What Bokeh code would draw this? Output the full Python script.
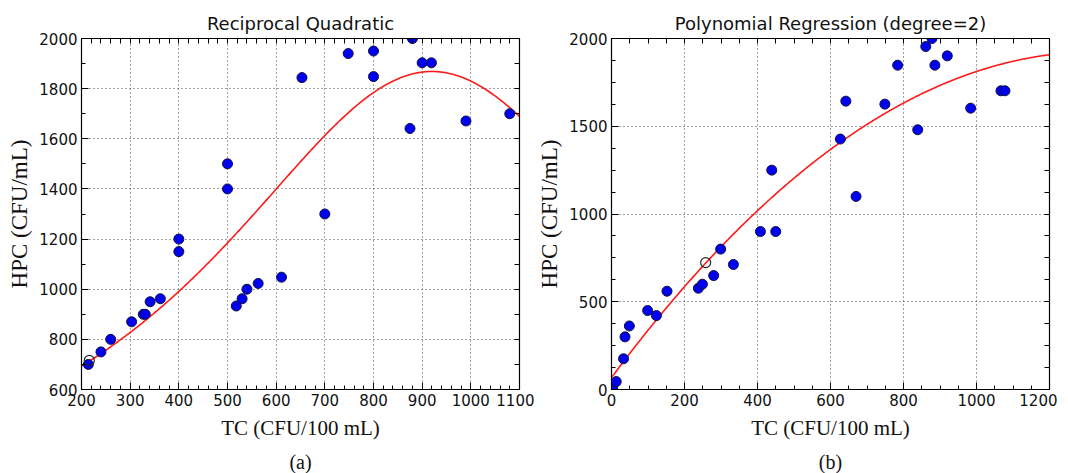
import numpy as np
from bokeh.plotting import figure
from bokeh.layouts import row
from bokeh.models import LinearAxis, SingleIntervalTicker, FixedTicker, Title, Range1d
from bokeh.embed import file_html
from bokeh.resources import INLINE

# ---- Data: left panel (Reciprocal Quadratic) ----
left_x = [214, 240, 260, 303, 327, 331, 341, 362, 400, 400, 500, 500, 518, 530,
          540, 563, 611, 653, 700, 748, 800, 800, 880, 875, 900, 919, 990, 1080]
left_y = [700, 750, 800, 870, 900, 900, 950, 962, 1200, 1150, 1500, 1400, 933, 962,
          1000, 1023, 1048, 1844, 1300, 1940, 1950, 1848, 2000, 1641, 1903, 1903, 1671, 1700]
left_pred_x = [216]
left_pred_y = [716]
# fitted model 1/y = a + b*x + c*x^2
RQ_A, RQ_B, RQ_C = 0.0020174, -3.222e-6, 1.751e-9

# ---- Data: right panel (Polynomial Regression, degree 2) ----
right_x = [3, 13, 33, 37, 49, 99, 123, 152, 238, 249, 280, 299, 334, 408, 450, 439,
           627, 642, 670, 749, 784, 839, 861, 878, 886, 920, 984, 1067, 1078]
right_y = [5, 45, 175, 300, 362, 450, 421, 560, 577, 600, 649, 800, 712, 900, 900, 1250,
           1427, 1643, 1100, 1626, 1848, 1480, 1954, 2000, 1848, 1901, 1603, 1702, 1702]
right_pred_x = [258]
right_pred_y = [723]
# fitted model y = c0 + c1*x + c2*x^2
PR_C0, PR_C1, PR_C2 = 68.0, 2.80, -0.001056

TICK_FONT = "DejaVu Sans"
SERIF = "Liberation Serif"
TEXT_COLOR = "#111111"


def style_axis(ax, ticker):
    ax.ticker = ticker
    ax.major_tick_in = 7
    ax.major_tick_out = 0
    ax.minor_tick_in = 4
    ax.minor_tick_out = 0
    ax.axis_line_color = "black"
    ax.major_tick_line_color = "black"
    ax.minor_tick_line_color = "black"
    ax.major_label_text_font = TICK_FONT
    ax.major_label_text_color = TEXT_COLOR
    ax.major_label_text_font_size = "15px"
    ax.major_label_standoff = 4


def frame_axis(lo, hi, step, nminor):
    # unlabeled axis for the opposite frame side: all ticks drawn as minor ticks
    sub = step / nminor
    positions = list(np.arange(lo, hi + sub / 2, sub))
    ax = LinearAxis(ticker=FixedTicker(ticks=[], minor_ticks=positions))
    ax.major_tick_in = 0
    ax.major_tick_out = 0
    ax.minor_tick_in = 5
    ax.minor_tick_out = 0
    ax.axis_line_color = "black"
    ax.minor_tick_line_color = "black"
    return ax


def make_panel(title, xr, yr, xint, xminor, yint, yminor, border_left, border_right, caption):
    p = figure(
        frame_width=438, frame_height=351,
        x_range=Range1d(*xr), y_range=Range1d(*yr),
        output_backend="svg", toolbar_location=None,
        min_border_left=border_left, min_border_right=border_right,
        min_border_top=38, min_border_bottom=72,
        background_fill_color="white", border_fill_color="white",
    )
    p.outline_line_color = "black"
    p.outline_line_width = 1.2
    p.title.text = title
    p.title.align = "center"
    p.title.text_font = TICK_FONT
    p.title.text_font_size = "18px"
    p.title.text_font_style = "normal"
    p.title.text_color = TEXT_COLOR
    p.title.standoff = 9

    xt = SingleIntervalTicker(interval=xint, num_minor_ticks=xminor)
    yt = SingleIntervalTicker(interval=yint, num_minor_ticks=yminor)
    style_axis(p.xaxis[0], xt)
    style_axis(p.yaxis[0], yt)
    p.yaxis[0].axis_label = "HPC (CFU/mL)"
    p.yaxis[0].axis_label_text_font = SERIF
    p.yaxis[0].axis_label_text_font_size = "23px"
    p.yaxis[0].axis_label_text_font_style = "normal"
    p.yaxis[0].axis_label_text_color = TEXT_COLOR
    p.yaxis[0].axis_label_standoff = 4

    p.add_layout(frame_axis(xr[0], xr[1], xint, xminor), "above")
    p.add_layout(frame_axis(yr[0], yr[1], yint, yminor), "right")

    for g in (p.xgrid[0], p.ygrid[0]):
        g.grid_line_color = "#444444"
        g.grid_line_dash = "1 3"
        g.grid_line_width = 1
    p.xgrid[0].ticker = xt
    p.ygrid[0].ticker = yt

    xlabel = Title(text="TC (CFU/100 mL)", align="center", offset=10, text_font=SERIF,
                   text_font_size="21px", text_font_style="normal", text_color=TEXT_COLOR,
                   standoff=11)
    p.add_layout(xlabel, "below")
    cap = Title(text=caption, align="center", offset=10, text_font=SERIF, text_font_size="20px",
                text_font_style="normal", text_color=TEXT_COLOR, standoff=7)
    p.add_layout(cap, "below")
    return p


# ---- Left panel ----
p1 = make_panel("Reciprocal Quadratic", (200, 1100), (600, 2000), 100, 5, 200, 2, 81, 15, "(a)")
xs1 = np.linspace(200, 1100, 400)
ys1 = 1.0 / (RQ_A + RQ_B * xs1 + RQ_C * xs1 ** 2)
p1.line(xs1, ys1, line_color="#ff1a1a", line_width=1.6)
p1.scatter(left_x, left_y, size=10, fill_color="#0000f0", line_color="#101040", line_width=1)
p1.scatter(left_pred_x, left_pred_y, size=10, fill_color=None, line_color="#222222", line_width=1.2)

# ---- Right panel ----
p2 = make_panel("Polynomial Regression (degree=2)", (0, 1200), (0, 2000), 200, 4, 500, 4, 77, 8, "(b)")
xs2 = np.linspace(0, 1200, 400)
ys2 = PR_C0 + PR_C1 * xs2 + PR_C2 * xs2 ** 2
p2.line(xs2, ys2, line_color="#ff1a1a", line_width=1.6)
p2.scatter(right_x, right_y, size=10, fill_color="#0000f0", line_color="#101040", line_width=1)
p2.scatter(right_pred_x, right_pred_y, size=10, fill_color=None, line_color="#222222", line_width=1.2)

layout = row(p1, p2)
open("out.html", "w").write(file_html(layout, INLINE))
